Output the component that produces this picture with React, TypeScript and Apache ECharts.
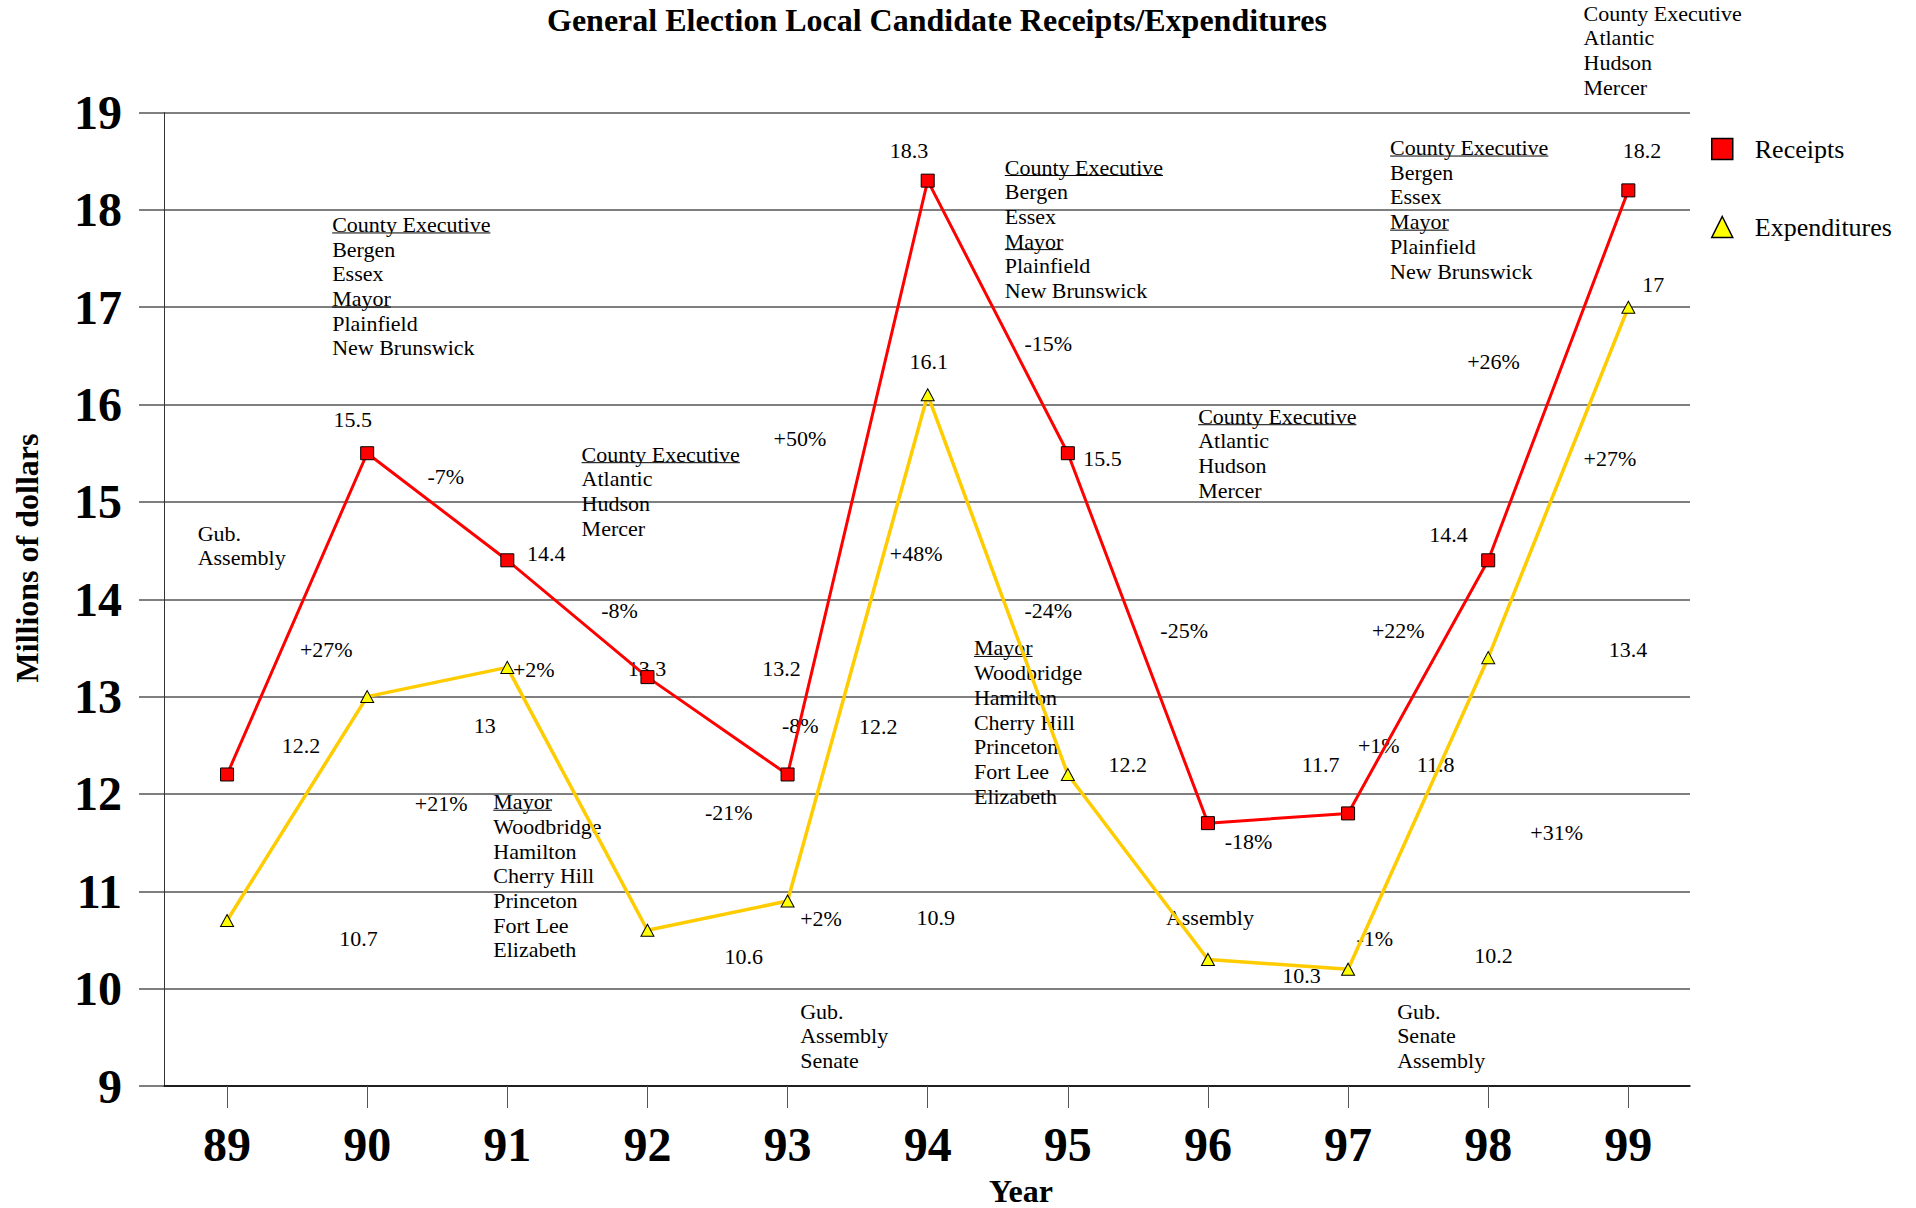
import React, { useEffect, useRef } from "react";
import * as echarts from "echarts";

const FF = '"Liberation Serif", "Times New Roman", serif';

const years = [89, 90, 91, 92, 93, 94, 95, 96, 97, 98, 99];
const receipts = [12.2, 15.5, 14.4, 13.2, 12.2, 18.3, 15.5, 11.7, 11.8, 14.4, 18.2];
const expenditures = [10.7, 13.0, 13.3, 10.6, 10.9, 16.1, 12.2, 10.3, 10.2, 13.4, 17.0];
const yMin = 9;
const yMax = 19;

// Free text annotations, anchored in data coordinates (year, millions); u = underlined line indexes
const annotations = [
  { x: 98.68, y: 20.02, lines: ["County Executive", "Atlantic", "Hudson", "Mercer"], u: [] },
  { x: 98.96, y: 18.61, lines: ["18.2"], u: [] },
  { x: 99.1, y: 17.23, lines: ["17"], u: [] },
  { x: 97.3, y: 18.64, lines: ["County Executive", "Bergen", "Essex", "Mayor", "Plainfield", "New Brunswick"], u: [0, 3] },
  { x: 97.85, y: 16.44, lines: ["+26%"], u: [] },
  { x: 98.68, y: 15.45, lines: ["+27%"], u: [] },
  { x: 95.93, y: 15.88, lines: ["County Executive", "Atlantic", "Hudson", "Mercer"], u: [0] },
  { x: 97.58, y: 14.67, lines: ["14.4"], u: [] },
  { x: 95.66, y: 13.68, lines: ["-25%"], u: [] },
  { x: 97.17, y: 13.68, lines: ["+22%"], u: [] },
  { x: 98.86, y: 13.48, lines: ["13.4"], u: [] },
  { x: 96.67, y: 12.3, lines: ["11.7"], u: [] },
  { x: 97.07, y: 12.5, lines: ["+1%"], u: [] },
  { x: 97.49, y: 12.3, lines: ["11.8"], u: [] },
  { x: 96.12, y: 11.51, lines: ["-18%"], u: [] },
  { x: 98.3, y: 11.6, lines: ["+31%"], u: [] },
  { x: 95.7, y: 10.73, lines: ["Assembly"], u: [] },
  { x: 97.06, y: 10.52, lines: ["-1%"], u: [] },
  { x: 96.53, y: 10.13, lines: ["10.3"], u: [] },
  { x: 97.9, y: 10.34, lines: ["10.2"], u: [] },
  { x: 97.35, y: 9.77, lines: ["Gub.", "Senate", "Assembly"], u: [] },
  { x: 93.73, y: 18.61, lines: ["18.3"], u: [] },
  { x: 94.55, y: 18.44, lines: ["County Executive", "Bergen", "Essex", "Mayor", "Plainfield", "New Brunswick"], u: [0, 3] },
  { x: 94.69, y: 16.63, lines: ["-15%"], u: [] },
  { x: 93.87, y: 16.44, lines: ["16.1"], u: [] },
  { x: 95.11, y: 15.45, lines: ["15.5"], u: [] },
  { x: 93.73, y: 14.47, lines: ["+48%"], u: [] },
  { x: 94.69, y: 13.88, lines: ["-24%"], u: [] },
  { x: 94.33, y: 13.5, lines: ["Mayor", "Woodbridge", "Hamilton", "Cherry Hill", "Princeton", "Fort Lee", "Elizabeth"], u: [0] },
  { x: 95.29, y: 12.3, lines: ["12.2"], u: [] },
  { x: 93.51, y: 12.69, lines: ["12.2"], u: [] },
  { x: 93.92, y: 10.73, lines: ["10.9"], u: [] },
  { x: 93.09, y: 10.72, lines: ["+2%"], u: [] },
  { x: 93.09, y: 9.77, lines: ["Gub.", "Assembly", "Senate"], u: [] },
  { x: 92.9, y: 15.65, lines: ["+50%"], u: [] },
  { x: 92.82, y: 13.29, lines: ["13.2"], u: [] },
  { x: 92.96, y: 12.7, lines: ["-8%"], u: [] },
  { x: 92.41, y: 11.81, lines: ["-21%"], u: [] },
  { x: 92.55, y: 10.33, lines: ["10.6"], u: [] },
  { x: 89.75, y: 17.85, lines: ["County Executive", "Bergen", "Essex", "Mayor", "Plainfield", "New Brunswick"], u: [0, 3] },
  { x: 89.76, y: 15.85, lines: ["15.5"], u: [] },
  { x: 90.43, y: 15.26, lines: ["-7%"], u: [] },
  { x: 91.53, y: 15.49, lines: ["County Executive", "Atlantic", "Hudson", "Mercer"], u: [0] },
  { x: 88.79, y: 14.68, lines: ["Gub.", "Assembly"], u: [] },
  { x: 91.14, y: 14.47, lines: ["14.4"], u: [] },
  { x: 91.67, y: 13.88, lines: ["-8%"], u: [] },
  { x: 89.52, y: 13.48, lines: ["+27%"], u: [] },
  { x: 91.04, y: 13.28, lines: ["+2%"], u: [] },
  { x: 91.86, y: 13.29, lines: ["13.3"], u: [] },
  { x: 89.39, y: 12.5, lines: ["12.2"], u: [] },
  { x: 90.76, y: 12.7, lines: ["13"], u: [] },
  { x: 90.34, y: 11.9, lines: ["+21%"], u: [] },
  { x: 90.9, y: 11.92, lines: ["Mayor", "Woodbridge", "Hamilton", "Cherry Hill", "Princeton", "Fort Lee", "Elizabeth"], u: [0] },
  { x: 89.8, y: 10.52, lines: ["10.7"], u: [] },
];

const ANN_FONT = 22;
const ANN_LH = 24.7;

let measureCtx: CanvasRenderingContext2D | null = null;
function textWidth(t: string): number {
  if (!measureCtx) {
    const c = document.createElement("canvas");
    measureCtx = c.getContext("2d");
  }
  if (!measureCtx) return t.length * ANN_FONT * 0.45;
  measureCtx.font = `${ANN_FONT}px "Liberation Serif"`;
  return measureCtx.measureText(t).width;
}

export default function App() {
  const ref = useRef<HTMLDivElement>(null);

  useEffect(() => {
    if (!ref.current) return;
    const chart = echarts.init(ref.current, undefined, { renderer: "svg" });

    const option: any = {
      animation: false,
      backgroundColor: "#ffffff",
      title: {
        text: "General Election Local Candidate Receipts/Expenditures",
        left: 547,
        top: 4,
        padding: 0,
        textStyle: { fontFamily: FF, fontSize: 32, fontWeight: "bold", color: "#000" },
      },
      legend: {
        orient: "vertical",
        left: 1711,
        top: 136,
        padding: 0,
        itemWidth: 21,
        itemHeight: 21,
        itemGap: 52,
        textStyle: { fontFamily: FF, fontSize: 26, color: "#000", lineHeight: 26, padding: [0, 0, 0, 17] },
        data: [
          { name: "Receipts", icon: "rect", itemStyle: { color: "#FF0000", borderColor: "#000", borderWidth: 1.5 } },
          { name: "Expenditures", icon: "triangle", itemStyle: { color: "#FFFF00", borderColor: "#000", borderWidth: 1.5 } },
        ],
      },
      grid: { left: 164, right: 226, top: 112.5, bottom: 122, containLabel: false },
      xAxis: {
        type: "value",
        min: 88.55,
        max: 99.44,
        axisLine: { show: true, lineStyle: { color: "#000", width: 1.5 } },
        axisTick: { show: true, length: 22, lineStyle: { color: "#555", width: 1 }, customValues: years },
        axisLabel: {
          customValues: years,
          formatter: (v: number) => String(v),
          fontFamily: FF,
          fontSize: 48,
          fontWeight: "bold",
          color: "#000",
          margin: 34,
        },
        splitLine: { show: false },
      },
      yAxis: {
        type: "value",
        min: yMin,
        max: yMax,
        interval: 1,
        axisLine: { show: true, lineStyle: { color: "#333", width: 1 } },
        axisTick: { show: true, length: 25, lineStyle: { color: "#555", width: 1.5 } },
        axisLabel: { fontFamily: FF, fontSize: 48, fontWeight: "bold", color: "#000", margin: 42 },
        splitLine: { show: true, lineStyle: { color: "#555", width: 1.5 } },
      },
      graphic: [
        {
          type: "text",
          x: 27,
          y: 558,
          rotation: Math.PI / 2,
          style: {
            text: "Millions of dollars",
            fontFamily: FF,
            fontSize: 32,
            fontWeight: "bold",
            fill: "#000",
            align: "center",
            verticalAlign: "middle",
          },
        },
        {
          type: "text",
          x: 1021,
          y: 1191,
          style: {
            text: "Year",
            fontFamily: FF,
            fontSize: 32,
            fontWeight: "bold",
            fill: "#000",
            align: "center",
            verticalAlign: "middle",
          },
        },
      ],
      series: [
        {
          type: "custom",
          name: "notes",
          silent: true,
          z: 1,
          clip: false,
          data: annotations.map((a, i) => [a.x, a.y, i]),
          encode: { x: 0, y: 1 },
          renderItem: (params: any, api: any) => {
            const a = annotations[api.value(2)];
            const p = api.coord([api.value(0), api.value(1)]);
            const children: any[] = [];
            a.lines.forEach((t, i) => {
              const y = p[1] + i * ANN_LH;
              children.push({
                type: "text",
                x: p[0],
                y,
                style: {
                  text: t,
                  fill: "#000",
                  fontSize: ANN_FONT,
                  fontFamily: FF,
                  align: "left",
                  verticalAlign: "middle",
                },
              });
              if (a.u.includes(i)) {
                const w = textWidth(t);
                children.push({
                  type: "line",
                  shape: { x1: p[0], y1: y + 8.5, x2: p[0] + w, y2: y + 8.5 },
                  style: { stroke: "#000", lineWidth: 1 },
                });
              }
            });
            return { type: "group", children };
          },
        },
        {
          type: "line",
          name: "Receipts",
          z: 3,
          data: years.map((yr, i) => [yr, receipts[i]]),
          symbol: "rect",
          symbolSize: 13,
          lineStyle: { color: "#FF0000", width: 3 },
          itemStyle: { color: "#FF0000", borderColor: "#000", borderWidth: 1 },
        },
        {
          type: "line",
          name: "Expenditures",
          z: 3,
          data: years.map((yr, i) => [yr, expenditures[i]]),
          symbol: "triangle",
          symbolSize: [13, 12],
          lineStyle: { color: "#FFCC00", width: 3.5 },
          itemStyle: { color: "#FFFF00", borderColor: "#000", borderWidth: 1 },
        },
      ],
    };

    chart.setOption(option);
    return () => chart.dispose();
  }, []);

  return (
    <div
      ref={ref}
      style={{ position: "fixed", left: 0, top: 0, width: 1916, height: 1208, background: "#fff" }}
    />
  );
}
